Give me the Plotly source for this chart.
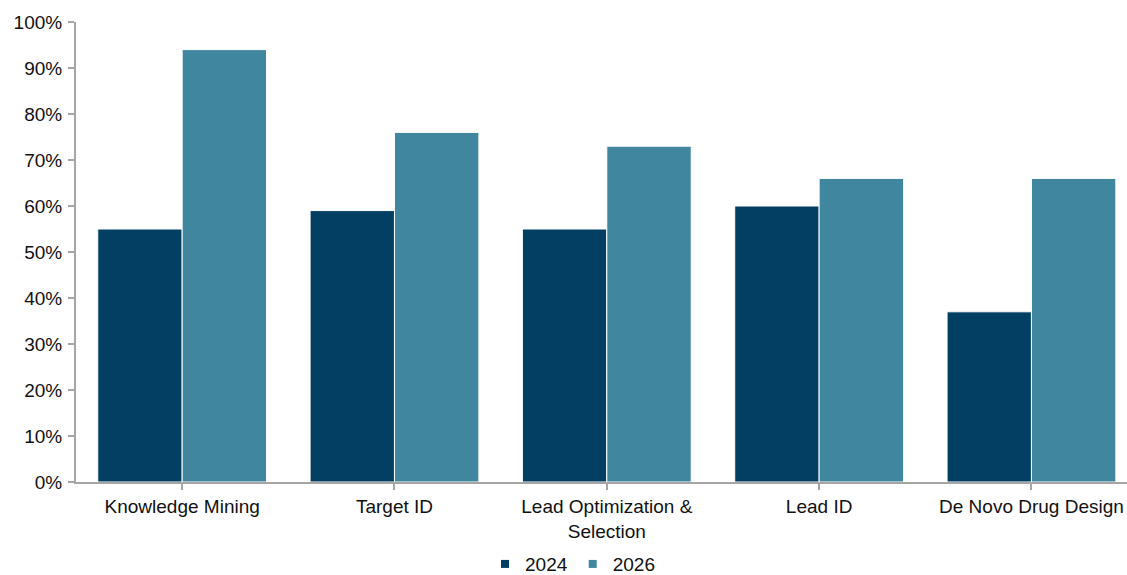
import plotly.graph_objects as go

categories = ["Knowledge Mining", "Target ID", "Lead Optimization &<br>Selection", "Lead ID", "De Novo Drug Design"]
series_names = ["2024", "2026"]
values_2024 = [55, 59, 55, 60, 37]
values_2026 = [94, 76, 73, 66, 66]
y_ticks = [0, 10, 20, 30, 40, 50, 60, 70, 80, 90, 100]
y_tick_labels = [f"{v}%" for v in y_ticks]

colors = ["#033f63", "#41869f"]

fig = go.Figure()
for name, vals, col in zip(series_names, [values_2024, values_2026], colors):
    fig.add_trace(go.Bar(
        x=list(range(len(categories))), y=vals, name=name,
        marker=dict(color=col, line=dict(color="white", width=1)),
        showlegend=False,
    ))
# legend-only entries with small square symbols
for name, col in zip(series_names, colors):
    fig.add_trace(go.Scatter(
        x=[None], y=[None], mode="markers", name=name,
        marker=dict(symbol="square", size=8, color=col),
        showlegend=True,
    ))

font = "Liberation Sans, Arial, sans-serif"
fig.update_layout(
    width=1127, height=575,
    margin=dict(l=76, r=0, t=22, b=93, autoexpand=False),
    plot_bgcolor="white", paper_bgcolor="white",
    barmode="group", bargap=0.205, bargroupgap=0,
    font=dict(family=font, size=19, color="#111111"),
    showlegend=True,
    legend=dict(orientation="h", xref="container", yref="container",
                x=0.508, xanchor="center", y=0.019, yanchor="middle",
                font=dict(size=19), itemwidth=30, traceorder="normal",
                tracegroupgap=0, bgcolor="rgba(0,0,0,0)"),
    xaxis=dict(
        range=[-0.5, 4.45], tickmode="array",
        tickvals=list(range(len(categories))), ticktext=categories,
        showline=True, linecolor="#a6a6a6", linewidth=2,
        ticks="outside", tickson="boundaries", ticklen=6, tickcolor="#a6a6a6", tickwidth=2,
        showgrid=False, tickfont=dict(size=19), automargin=False,
    ),
    yaxis=dict(
        range=[0, 100], tickmode="array", tickvals=y_ticks, ticktext=y_tick_labels,
        showline=True, linecolor="#a6a6a6", linewidth=2,
        ticks="outside", ticklen=6, tickcolor="#a6a6a6", tickwidth=2,
        showgrid=False, zeroline=False, tickfont=dict(size=19), automargin=False,
        ticklabelstandoff=2,
    ),
)

fig.write_html("out.html")
